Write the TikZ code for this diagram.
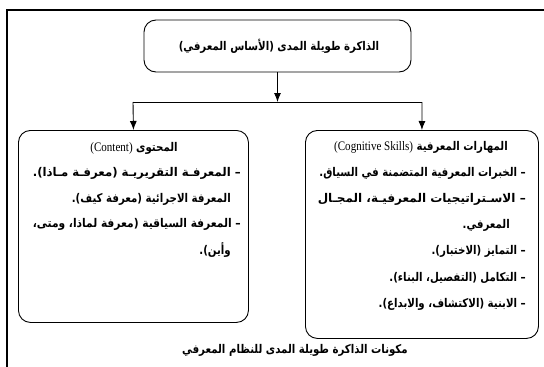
\documentclass[tikz,border=0pt]{standalone}
\usepackage{fontspec}
\usepackage{graphicx}
\setmainfont{Liberation Serif}
\newfontfamily\arabicfont[Script=Arabic]{DejaVu Sans}
\TeXXeTstate=1
\usetikzlibrary{arrows.meta}
\newcommand{\AR}[1]{\scalebox{0.85}[1]{\arabicfont\bfseries #1}}
\newcommand{\LT}[1]{\beginL{\rmfamily\mdseries\fontsize{13}{15}\selectfont #1}\endL{}}
\newcommand{\fitw}[2]{\resizebox{#1}{\height}{\arabicfont\bfseries #2}}
\tikzset{
  frameline/.style={line width=1.6pt},
  box/.style={draw, line width=0.9pt, rounded corners=12pt, inner sep=0pt},
  conn/.style={line width=0.9pt},
  arr/.style={conn, -{Latex[length=9pt,width=7pt]}},
  txt/.style={inner sep=0pt, font=\fontsize{12}{14}\selectfont},
}
\begin{document}
\begin{tikzpicture}[x=1pt,y=-1pt]
\useasboundingbox (0,0) rectangle (544,367);
% frame
\coordinate (f1) at (7,10);
\coordinate (f2) at (544,10);
\coordinate (f3) at (8,367);
\draw[frameline] (f2) -- (f1) -- (f1 |- f3);
% top box
\node[box, minimum width=267pt, minimum height=52pt] (top) at (277.5,46) {};
\node[txt] (toptext) at (279,46) {\AR{\beginR الذاكرة طويلة المدى (الأساس المعرفي)\endR}};
% connectors
\coordinate (jl) at (133,102);
\coordinate (jr) at (422,102);
\coordinate (jm) at (top.south |- jl);
\draw[arr] (top.south) -- (jm);
\draw[conn] (jl) -- (jr);
% boxes
\node[box, anchor=north west, minimum width=230pt, minimum height=192pt] (left) at (18,130) {};
\node[box, anchor=north west, minimum width=233pt, minimum height=208pt] (right) at (305,130) {};
\draw[arr] (jl) -- (left.north);
\draw[arr] (jr) -- (right.north);
% left box text
\node[txt] (lt) at (134,148) {\AR{\beginR المحتوى \LT{(Content)}\endR}};
\node[txt, anchor=east] (l1) at (241,173) {\fitw{208pt}{\beginR – المعرفـة التقريريـة (معرفـة مـاذا).\endR}};
\node[txt, anchor=east] (l2) at (231,199) {\AR{\beginR المعرفة الاجرائية (معرفة كيف).\endR}};
\node[txt, anchor=east] (l3) at (241,224) {\fitw{208pt}{\beginR – المعرفة السياقية (معرفة لماذا، ومتى،\endR}};
\node[txt, anchor=east] (l4) at (231,250) {\AR{\beginR وأين).\endR}};
% right box text
\node[txt] (rt) at (421,147) {\AR{\beginR المهارات المعرفية \LT{(Cognitive Skills)}\endR}};
\node[txt, anchor=east] (r1) at (526,173) {\AR{\beginR – الخبرات المعرفية المتضمنة في السياق.\endR}};
\node[txt, anchor=east] (r2) at (526,199) {\fitw{208pt}{\beginR – الاسـتراتيجيات المعرفيـة، المجـال\endR}};
\node[txt, anchor=east] (r3) at (510,225) {\AR{\beginR المعرفي.\endR}};
\node[txt, anchor=east] (r4) at (526,251) {\AR{\beginR – التمايز (الاختبار).\endR}};
\node[txt, anchor=east] (r5) at (526,278) {\AR{\beginR – التكامل (التفصيل، البناء).\endR}};
\node[txt, anchor=east] (r6) at (526,304) {\AR{\beginR – الابنية (الاكتشاف، والابداع).\endR}};
% caption
\node[txt] (cap) at (295,350) {\AR{\beginR مكونات الذاكرة طويلة المدى للنظام المعرفي\endR}};
\end{tikzpicture}
\end{document}
